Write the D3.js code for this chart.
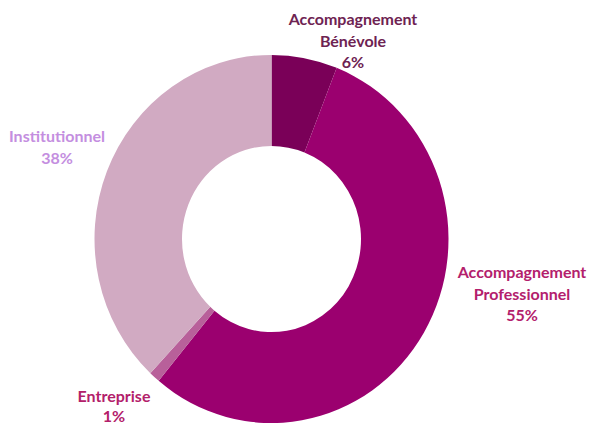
<!DOCTYPE html>
<html>
<head>
<meta charset="utf-8">
<script src="https://cdn.jsdelivr.net/npm/d3@7"></script>
<style>
  body { margin: 0; background: #fff; }
  text { font-family: Lato, "Open Sans", sans-serif; font-weight: bold; }
</style>
</head>
<body>
<div id="chart"></div>
<script>
// data
const categories = ["Accompagnement Bénévole", "Accompagnement Professionnel", "Entreprise", "Institutionnel"];
const values = [6, 55, 1, 38];
const labelLines = [["Accompagnement", "Bénévole"], ["Accompagnement", "Professionnel"], ["Entreprise"], ["Institutionnel"]];
const sliceColors = ["#7a0058", "#9b006f", "#b8609a", "#d1aac2"];
const textColors = ["#6e2352", "#b3206c", "#b3206a", "#c48ee0"];

const width = 592, height = 425;
const cx = 271.5, cy = 239;
const outerR = 177, innerR = 89.5;

const svg = d3.select("#chart").append("svg")
    .attr("width", width)
    .attr("height", height);

const pie = d3.pie().sort(null).value(d => d);
const arc = d3.arc().innerRadius(innerR).outerRadius(outerR);

const slices = pie(values);

// picture is slightly stretched vertically
const g = svg.append("g")
    .attr("transform", `translate(${cx},${cy}) scale(1,1.04)`);

g.selectAll("path")
    .data(slices)
    .enter().append("path")
        .attr("d", arc)
        .attr("fill", (d, i) => sliceColors[i]);

// labels placed around the ring
const labelPos = [[353, 25], [522, 278], [114, 402], [57, 142]];
const lineH = 21.5;

labelPos.forEach((p, i) => {
    let t = svg.append("text")
        .attr("text-anchor", "middle")
        .attr("font-size", 16)
        .attr("fill", textColors[i]);
    let lines = labelLines[i].concat([values[i] + "%"]);
    lines.forEach((l, j) => {
        t.append("tspan")
            .attr("x", p[0])
            .attr("y", p[1] + j * (i == 2 ? 20 : lineH))
            .text(l);
    });
});
</script>
</body>
</html>
